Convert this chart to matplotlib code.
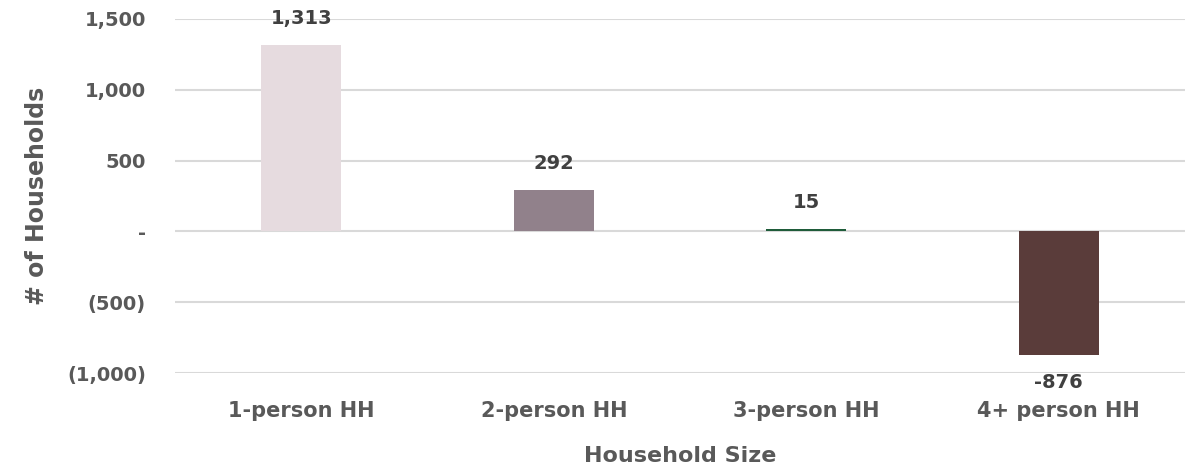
import matplotlib
matplotlib.use("Agg")
import matplotlib.pyplot as plt
from matplotlib.ticker import FuncFormatter

categories = ["1-person HH", "2-person HH", "3-person HH", "4+ person HH"]
values = [1313, 292, 15, -876]
colors = ["#E6DBDF", "#91818B", "#1F5C3A", "#5A3C3A"]
yticks = [-1000, -500, 0, 500, 1000, 1500]

plt.rcParams['font.family'] = ['DejaVu Sans']
gray = "#595959"

fig = plt.figure(figsize=(11.85, 4.71), dpi=100)
ax = fig.add_axes([0.1477, 0.208, 0.8523, 0.7517])

x = list(range(len(categories)))
ax.bar(x, values, width=0.317, color=colors, zorder=3)

ax.set_xlim(-0.5, len(categories) - 0.5)
ax.set_ylim(-1000, 1500)
ax.set_yticks(yticks)

def fmt(v, pos=None):
    if v == 0:
        return "-"
    if v < 0:
        return "({:,.0f})".format(-v)
    return "{:,.0f}".format(v)

ax.yaxis.set_major_formatter(FuncFormatter(fmt))
ax.grid(axis='y', color="#D9D9D9", linewidth=1.5, zorder=0)
for s in ax.spines.values():
    s.set_visible(False)
ax.tick_params(axis='both', length=0, labelcolor=gray)
ax.tick_params(axis='y', pad=21, labelsize=14)
ax.tick_params(axis='x', pad=20, labelsize=15)
ax.set_xticks(x)
ax.set_xticklabels(categories, fontweight='bold')
for lbl in ax.get_yticklabels():
    lbl.set_fontweight('bold')

for xi, v in zip(x, values):
    off = 27 if v >= 0 else -27
    ax.annotate("{:,}".format(v), (xi, v), xytext=(0, off), textcoords='offset pixels',
                ha='center', va='center', fontsize=14, fontweight='bold', color="#404040")

ax.set_ylabel("# of Households", fontsize=17, fontweight='bold', color=gray, labelpad=13)
ax.set_xlabel("Household Size", fontsize=16, fontweight='bold', color=gray, labelpad=18)

fig.savefig("out.png", dpi=100)
